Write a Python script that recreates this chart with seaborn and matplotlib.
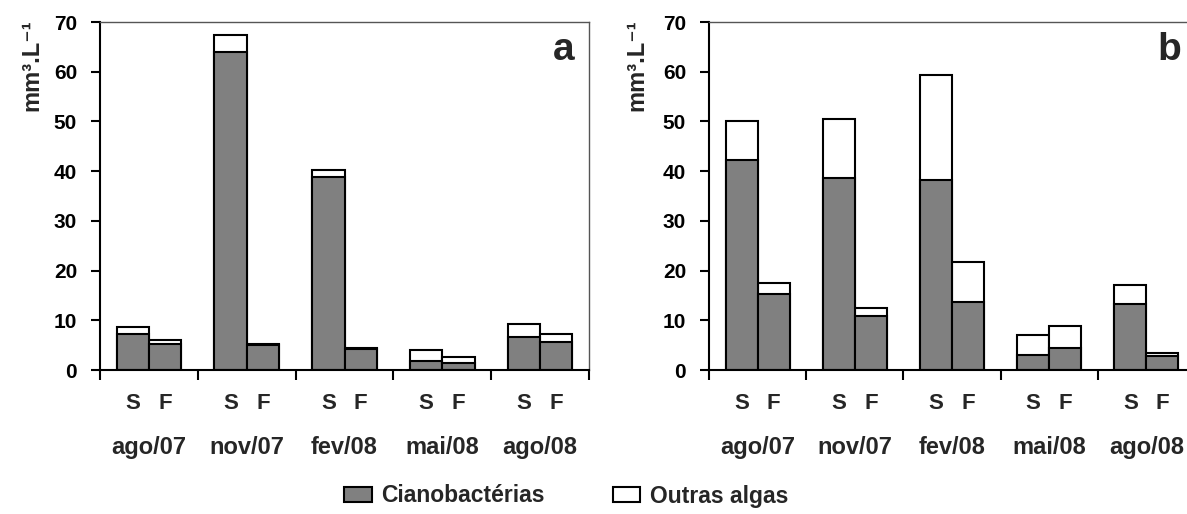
import matplotlib
matplotlib.use("Agg")
import matplotlib.pyplot as plt
from matplotlib.patches import Patch
from matplotlib.transforms import blended_transform_factory
import numpy as np
import pandas as pd
import seaborn as sns

sns.set_theme(style="white")
plt.rcParams["font.family"] = ["Liberation Sans", "DejaVu Sans"]
plt.rcParams["font.weight"] = "bold"

months = ["ago/07", "nov/07", "fev/08", "mai/08", "ago/08"]
sites = ["S", "F"]

# Panel a: cyanobacteria and total biovolume (mm3/L), S and F per month
ciano_a_S = [7.3, 64.0, 38.8, 1.8, 6.7]
ciano_a_F = [5.2, 5.0, 4.3, 1.5, 5.6]
total_a_S = [8.7, 67.3, 40.2, 4.1, 9.3]
total_a_F = [6.0, 5.3, 4.4, 2.6, 7.2]

# Panel b
ciano_b_S = [42.2, 38.6, 38.2, 3.0, 13.3]
ciano_b_F = [15.2, 10.9, 13.7, 4.5, 2.9]
total_b_S = [50.0, 50.4, 59.3, 7.0, 17.0]
total_b_F = [17.6, 12.4, 21.8, 8.9, 3.4]

yticks = [0, 10, 20, 30, 40, 50, 60, 70]
ylabel = "mm³.L⁻¹"
legend_labels = ["Cianobactérias", "Outras algas"]

GRAY = "#808080"
BAR_W = 0.66
LW = 1.5


def make_frame(cS, cF, tS, tF):
    rows = []
    for i, m in enumerate(months):
        rows.append({"mes": m, "ponto": "S", "ciano": cS[i], "total": tS[i]})
        rows.append({"mes": m, "ponto": "F", "ciano": cF[i], "total": tF[i]})
    return pd.DataFrame(rows)


def draw_panel(ax, df, letter):
    common = dict(x="mes", hue="ponto", order=months, hue_order=sites,
                  width=BAR_W, edgecolor="black", linewidth=LW,
                  legend=False, ax=ax, errorbar=None, saturation=1)
    sns.barplot(data=df, y="total", palette={"S": "white", "F": "white"}, **common)
    sns.barplot(data=df, y="ciano", palette={"S": GRAY, "F": GRAY}, **common)

    ax.set_xlim(-0.5, len(months) - 0.5)
    ax.set_ylim(0, 70)
    ax.set_yticks(yticks)
    ax.set_yticklabels([str(t) for t in yticks], fontsize=15, fontweight="bold")
    ax.set_xticks(np.arange(len(months) + 1) - 0.5)
    ax.set_xticklabels([])
    ax.set_xlabel("")
    ax.set_ylabel("")
    ax.tick_params(axis="x", direction="out", length=7, width=LW, bottom=True, colors="black")
    ax.tick_params(axis="y", direction="out", length=6.5, width=LW, left=True, pad=10, colors="black")

    for side in ("left", "bottom"):
        ax.spines[side].set_color("black")
        ax.spines[side].set_linewidth(LW)
    for side in ("top", "right"):
        ax.spines[side].set_color("#555555")
        ax.spines[side].set_linewidth(1.0)

    tr = blended_transform_factory(ax.transData, ax.transAxes)
    off = BAR_W / 4
    for i, m in enumerate(months):
        ax.text(i - off, -0.095, "S", transform=tr, ha="center", va="center",
                fontsize=16, fontweight="bold")
        ax.text(i + off, -0.095, "F", transform=tr, ha="center", va="center",
                fontsize=16, fontweight="bold")
        ax.text(i, -0.222, m, transform=tr, ha="center", va="center",
                fontsize=17, fontweight="bold")

    ax.text(0.948, 0.92, letter, transform=ax.transAxes, ha="center", va="center",
            fontsize=28, fontweight="bold")


fig = plt.figure(figsize=(11.87, 5.14), dpi=100)
ax_a = fig.add_axes([100 / 1187, 1 - 370 / 514, 489 / 1187, 348 / 514])
ax_b = fig.add_axes([709 / 1187, 1 - 370 / 514, 486 / 1187, 348 / 514])

draw_panel(ax_a, make_frame(ciano_a_S, ciano_a_F, total_a_S, total_a_F), "a")
draw_panel(ax_b, make_frame(ciano_b_S, ciano_b_F, total_b_S, total_b_F), "b")

fig.text(32 / 1187, 1 - 65 / 514, ylabel, rotation=90, ha="center", va="center",
         fontsize=17, fontweight="bold")
fig.text(637 / 1187, 1 - 65 / 514, ylabel, rotation=90, ha="center", va="center",
         fontsize=17, fontweight="bold")

handles = [Patch(facecolor=GRAY, edgecolor="black", linewidth=LW),
           Patch(facecolor="white", edgecolor="black", linewidth=LW)]
fig.legend(handles, legend_labels, loc="center", bbox_to_anchor=(566 / 1187, 1 - 496 / 514),
           ncol=2, frameon=False, prop={"size": 16.5, "weight": "bold"},
           columnspacing=3.0, handlelength=1.2, handleheight=0.6, handletextpad=0.4)

fig.savefig("out.png", dpi=100, facecolor="white")
